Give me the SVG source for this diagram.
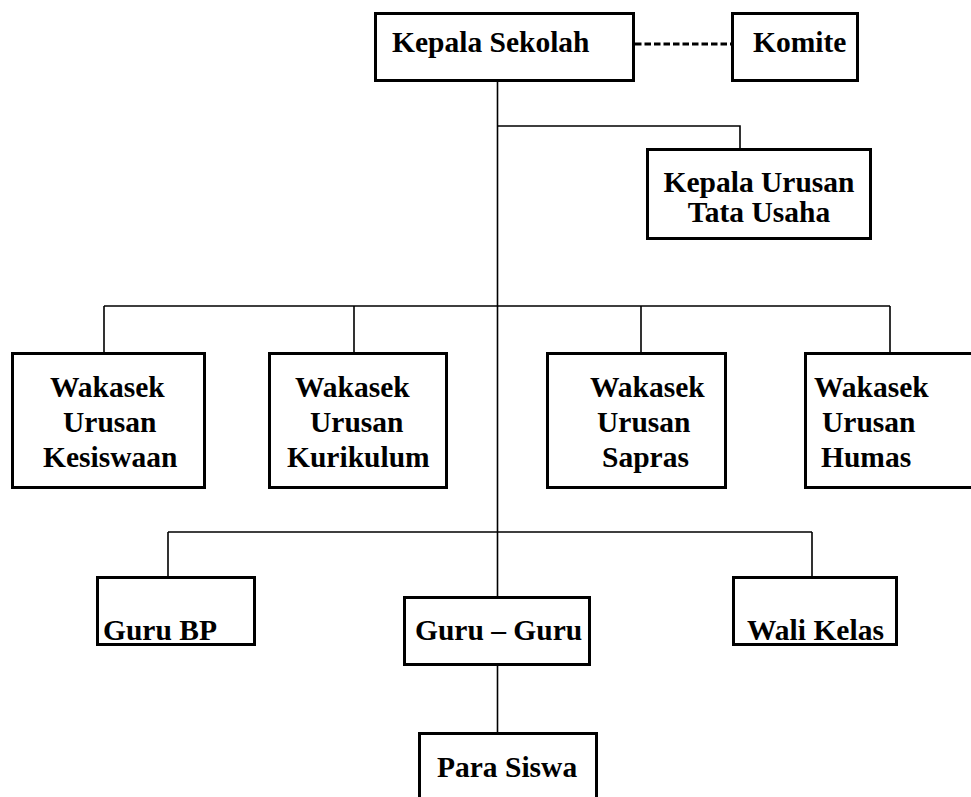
<svg xmlns="http://www.w3.org/2000/svg" width="971" height="797" viewBox="0 0 971 797">
<style>
.box{fill:#fff;stroke:#000;stroke-width:3}
.con{fill:none;stroke:#000;stroke-width:1.6}
.dash{fill:none;stroke:#000;stroke-width:3;stroke-dasharray:6.5 3}
text{font-family:"Liberation Serif","Times New Roman",serif;font-weight:bold;font-size:29.5px;fill:#000}
</style>
<rect width="971" height="797" fill="#fff"/>
<g id="connectors">
<path class="con" d="M497.5 82V597"/>
<path class="con" d="M497.5 126H740V148"/>
<path class="con" d="M104 306H890M104 306V352M354 306V352M641 306V352M890 306V352"/>
<path class="con" d="M168 532H812M168 532V576M812 532V576"/>
<path class="con" d="M497.5 666V732"/>
<path class="dash" d="M635 44H731"/>
</g>
<g id="kepala-sekolah"><rect class="box" x="375.5" y="13.5" width="258" height="67"/><text x="392" y="52">Kepala Sekolah</text></g>
<g id="komite"><rect class="box" x="732.5" y="13.5" width="125" height="67"/><text x="753" y="52">Komite</text></g>
<g id="tata-usaha"><rect class="box" x="647.5" y="149.5" width="223" height="89"/><text x="759" y="192" text-anchor="middle">Kepala Urusan</text><text x="759" y="222" text-anchor="middle">Tata Usaha</text></g>
<g id="kesiswaan"><rect class="box" x="12.5" y="353.5" width="192" height="134"/><text x="50" y="397">Wakasek</text><text x="63" y="432">Urusan</text><text x="43" y="467">Kesiswaan</text></g>
<g id="kurikulum"><rect class="box" x="269.5" y="353.5" width="177" height="134"/><text x="295" y="397">Wakasek</text><text x="310" y="432">Urusan</text><text x="287" y="467">Kurikulum</text></g>
<g id="sapras"><rect class="box" x="547.5" y="353.5" width="178" height="134"/><text x="590" y="397">Wakasek</text><text x="597" y="432">Urusan</text><text x="602" y="467">Sapras</text></g>
<g id="humas"><rect class="box" x="805.5" y="353.5" width="200" height="134"/><text x="814" y="397">Wakasek</text><text x="822" y="432">Urusan</text><text x="821" y="467">Humas</text></g>
<g id="guru-bp"><rect class="box" x="97.5" y="577.5" width="157" height="67"/><text x="103" y="640">Guru BP</text></g>
<g id="guru-guru"><rect class="box" x="404.5" y="597.5" width="185" height="67"/><text x="415" y="640">Guru – Guru</text></g>
<g id="wali-kelas"><rect class="box" x="733.5" y="577.5" width="163" height="67"/><text x="747" y="640">Wali Kelas</text></g>
<g id="para-siswa"><rect class="box" x="419.5" y="733.5" width="177" height="100"/><text x="437" y="777">Para Siswa</text></g>
</svg>
